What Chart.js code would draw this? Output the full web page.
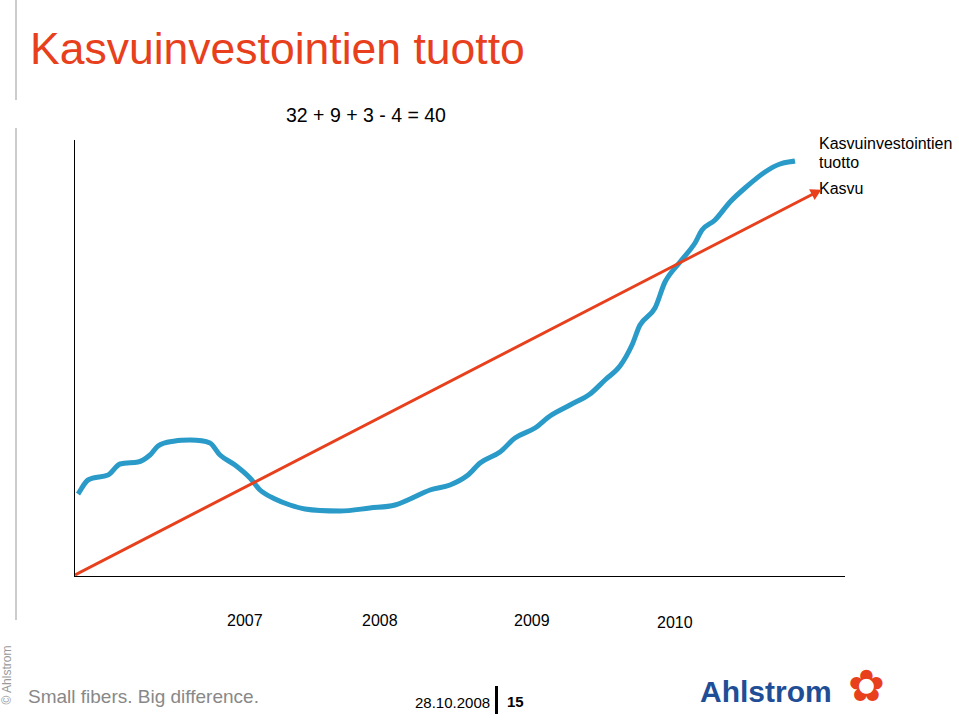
<!DOCTYPE html>
<html><head><meta charset="utf-8">
<script src="https://cdn.jsdelivr.net/npm/chart.js@4"></script>
<style>
body{margin:0;width:959px;height:725px;position:relative;background:#fff;font-family:"Liberation Sans",Arial,sans-serif;overflow:hidden}
.t{position:absolute;white-space:nowrap}
</style></head><body>
<div class="t" style="left:30px;top:24px;font-size:44.5px;color:#e8401c">Kasvuinvestointien tuotto</div>
<div style="position:absolute;left:15px;top:0;width:2px;height:100px;background:#ccc"></div>
<div style="position:absolute;left:15px;top:128px;width:2px;height:492px;background:#ccc"></div>
<div class="t" style="left:286px;top:104px;font-size:19.5px">32 + 9 + 3 - 4 = 40</div>
<div style="position:absolute;left:74px;top:140px;width:1px;height:437px;background:#000"></div>
<div style="position:absolute;left:74px;top:576px;width:771px;height:1px;background:#000"></div>
<div class="t" style="left:819px;top:134px;font-size:16px;line-height:19px">Kasvuinvestointien<br>tuotto</div>
<div class="t" style="left:819px;top:180px;font-size:16px">Kasvu</div>
<div class="t" style="left:227px;top:612px;font-size:16px">2007</div>
<div class="t" style="left:362px;top:612px;font-size:16px">2008</div>
<div class="t" style="left:514px;top:612px;font-size:16px">2009</div>
<div class="t" style="left:657px;top:614px;font-size:16px">2010</div>
<div class="t" style="left:-22px;top:668px;font-size:12px;color:#999;transform:rotate(-90deg)">© Ahlstrom</div>
<div class="t" style="left:28px;top:686px;font-size:19px;color:#888">Small fibers. Big difference.</div>
<div class="t" style="left:415px;top:694px;font-size:15px">28.10.2008</div>
<div style="position:absolute;left:495px;top:686px;width:3px;height:28px;background:#000"></div>
<div class="t" style="left:507px;top:693px;font-size:15px;font-weight:bold">15</div>
<div class="t" style="left:700px;top:675px;font-size:30px;font-weight:bold;color:#1f4e96">Ahlstrom</div>
<div class="t" style="left:848px;top:660px;font-size:44px;color:#e8401c">✿</div>
<div style="position:absolute;left:75px;top:140px;width:770px;height:437px"><canvas id="c"></canvas></div>
<script>
// pixel readings from the picture: x position, height above the x axis
const growthX = [78,88,108,120,138,150,158,175,190,210,220,235,250,260,275,290,305,340,370,395,410,430,450,468,480,500,515,535,550,570,590,605,620,632,640,655,665,680,695,702,715,730,745,765,780,795];
const growthY = [494,480,475,464,462,455,446,441,440,443,455,465,478,490,499,505,509,511,508,505,499,490,485,475,463,452,438,428,416,405,394,380,366,345,325,308,282,262,243,230,220,202,188,172,164,161];
const trendX = [75,815];
const trendY = [575,193];
const pts = (xs, ys) => xs.map((x, i) => ({ x, y: 577 - ys[i] }));

new Chart(document.getElementById('c'), {
  type: 'line',
  data: {
    datasets: [
      { data: pts(trendX, trendY), borderColor: '#e8401c', borderWidth: 3,
        pointRadius: [0, 7], pointStyle: 'triangle', pointRotation: 63,
        pointBackgroundColor: '#e8401c', pointBorderWidth: 0, clip: false },
      { data: pts(growthX, growthY), borderColor: '#2a9ac8', borderWidth: 5,
        pointRadius: 0, tension: 0.3, cubicInterpolationMode: 'monotone', clip: false },
    ],
  },
  options: {
    responsive: true,
    maintainAspectRatio: false,
    animation: false,
    layout: { padding: 0, autoPadding: false },
    plugins: { legend: { display: false }, tooltip: { enabled: false } },
    scales: {
      x: { type: 'linear', min: 75, max: 845, display: false },
      y: { min: 0, max: 437, display: false },
    },
  },
});
</script>
</body></html>
